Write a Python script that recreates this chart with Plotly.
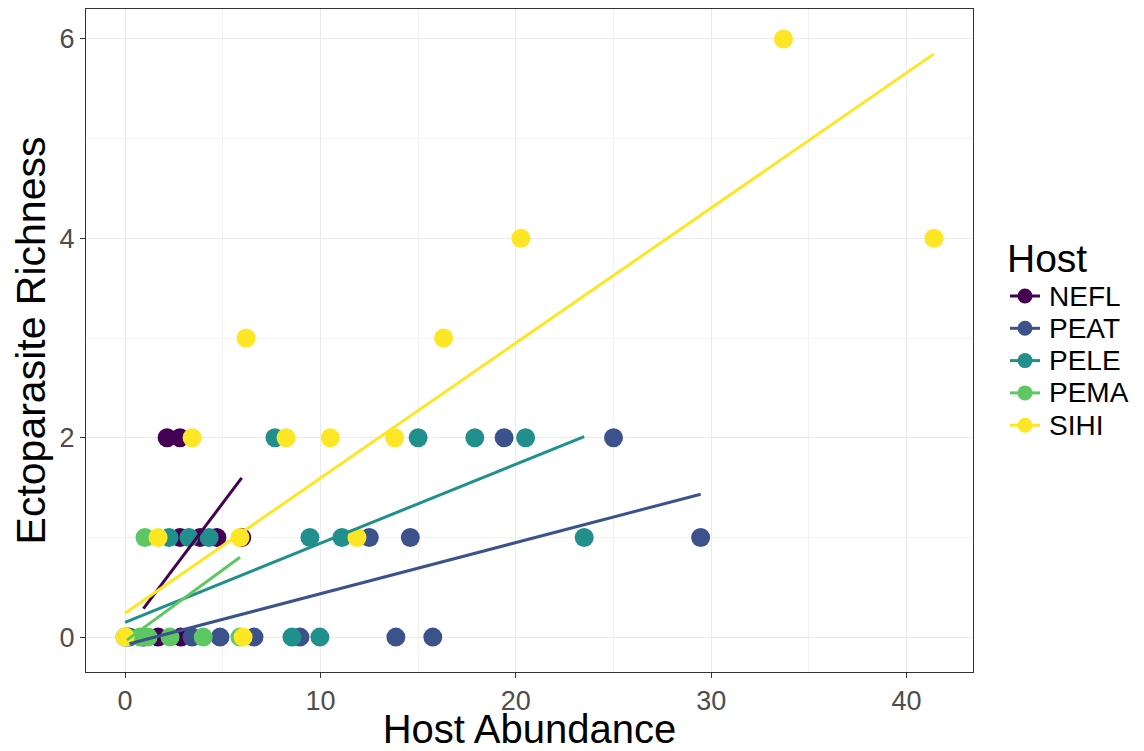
import plotly.graph_objects as go

hosts = ["NEFL", "PEAT", "PELE", "PEMA", "SIHI"]
colors = ["#440154", "#3B528B", "#21908C", "#5DC863", "#FDE725"]

# Host abundance (x) and ectoparasite richness (y) per host
nefl_x = [0.94, 1.69, 2.86, 2.81, 3.84, 4.7, 5.97, 2.15, 2.81]
nefl_y = [0, 0, 0, 1, 1, 1, 1, 2, 2]

peat_x = [0.22, 3.43, 4.86, 6.6, 8.95, 13.86, 15.75, 12.5, 14.6, 29.46, 19.4, 25.0]
peat_y = [0, 0, 0, 0, 0, 0, 0, 1, 1, 1, 2, 2]

pele_x = [0.0, 8.54, 9.97, 2.25, 3.27, 4.3, 9.46, 11.1, 23.5, 7.67, 15.0, 17.9, 20.5]
pele_y = [0, 0, 0, 1, 1, 1, 1, 1, 1, 2, 2, 2, 2]

pema_x = [0.09, 0.77, 1.18, 2.3, 4.0, 5.88, 1.02]
pema_y = [0, 0, 0, 0, 0, 0, 1]

sihi_x = [0.0, 6.04, 1.69, 5.88, 11.87, 3.43, 8.24, 10.5, 13.8, 6.19, 16.3, 20.26, 41.4, 33.7]
sihi_y = [0, 0, 1, 1, 1, 2, 2, 2, 2, 3, 3, 4, 4, 6]

# Linear fit coefficients (intercept, slope)
fit_intercept = [0.041, -0.078, 0.148, -0.043, 0.24]
fit_slope = [0.2607, 0.0513, 0.0793, 0.1434, 0.1355]

xs = [nefl_x, peat_x, pele_x, pema_x, sihi_x]
ys = [nefl_y, peat_y, pele_y, pema_y, sihi_y]

x_ticks = [0, 10, 20, 30, 40]
y_ticks = [0, 2, 4, 6]
legend_title = "Host"

fig = go.Figure()

for i, h in enumerate(hosts):
    fig.add_trace(go.Scatter(
        x=xs[i], y=ys[i], mode="markers", name=h, legendgroup=h, showlegend=False,
        marker=dict(color=colors[i], size=19, line=dict(width=0)),
        hoverinfo="x+y+name"))

for i, h in enumerate(hosts):
    x0, x1 = min(xs[i]), max(xs[i])
    fig.add_trace(go.Scatter(
        x=[x0, x1], y=[fit_intercept[i] + fit_slope[i] * x0, fit_intercept[i] + fit_slope[i] * x1],
        mode="lines", name=h, legendgroup=h, showlegend=False,
        line=dict(color=colors[i], width=3), hoverinfo="skip"))

font_family = "Liberation Sans, Arial, sans-serif"

# Legend drawn as keys (paper coordinates) to match ggplot layout
W, H = 1136, 743
ML, MR, MT, MB = 78, 171, 1, 79
pw, ph = W - ML - MR, H - MT - MB


def px_to_paper_x(px):
    return (px - ML) / pw


def px_to_paper_y(py):
    return (H - MB - py) / ph


key_x0, key_x1, key_cx, text_x = 1002, 1032, 1017, 1039
title_y = 250
item_y0, item_dy = 288, 32.3

annotations = [dict(
    text=legend_title, xref="paper", yref="paper",
    x=px_to_paper_x(997), y=px_to_paper_y(title_y), xanchor="left", yanchor="middle",
    showarrow=False, font=dict(size=39, color="black"))]
shapes = []
for i, h in enumerate(hosts):
    yy = px_to_paper_y(item_y0 + i * item_dy)
    shapes.append(dict(type="line", xref="paper", yref="paper",
                       x0=px_to_paper_x(key_x0), x1=px_to_paper_x(key_x1), y0=yy, y1=yy,
                       line=dict(color=colors[i], width=3)))
    shapes.append(dict(type="circle", xref="paper", yref="paper",
                       xsizemode="pixel", ysizemode="pixel",
                       xanchor=px_to_paper_x(key_cx), yanchor=yy,
                       x0=-7.5, x1=7.5, y0=-7.5, y1=7.5,
                       fillcolor=colors[i], line=dict(width=0)))
    annotations.append(dict(
        text=h, xref="paper", yref="paper",
        x=px_to_paper_x(text_x), y=yy, xanchor="left", yanchor="middle",
        showarrow=False, font=dict(size=28, color="black")))

fig.update_layout(
    width=W, height=H,
    margin=dict(l=ML, r=MR, t=MT, b=MB, autoexpand=False),
    paper_bgcolor="white", plot_bgcolor="white",
    font=dict(family=font_family, color="black"),
    showlegend=False,
    annotations=annotations,
    shapes=shapes,
    xaxis=dict(
        range=[-2.0, 43.4], tickvals=x_ticks, ticktext=[str(v) for v in x_ticks],
        automargin=False,
        showgrid=True, gridcolor="#EBEBEB", gridwidth=1.2,
        minor=dict(tickvals=[5, 15, 25, 35], showgrid=True, gridcolor="#F2F2F2", gridwidth=1),
        zeroline=False, showline=True, linecolor="#333333", linewidth=1, mirror=True,
        ticks="outside", ticklen=5, tickcolor="#333333", tickwidth=1,
        tickfont=dict(size=27, color="#4D4D4D"),
        title=dict(text="Host Abundance", font=dict(size=40, color="black"))),
    yaxis=dict(
        range=[-0.35, 6.3], tickvals=y_ticks, ticktext=[str(v) for v in y_ticks],
        automargin=False,
        showgrid=True, gridcolor="#EBEBEB", gridwidth=1.2,
        minor=dict(tickvals=[1, 3, 5], showgrid=True, gridcolor="#F2F2F2", gridwidth=1),
        zeroline=False, showline=True, linecolor="#333333", linewidth=1, mirror=True,
        ticks="outside", ticklen=5, tickcolor="#333333", tickwidth=1,
        tickfont=dict(size=27, color="#4D4D4D"),
        title=dict(text="Ectoparasite Richness", font=dict(size=41, color="black"))),
)

fig.write_html("out.html")
